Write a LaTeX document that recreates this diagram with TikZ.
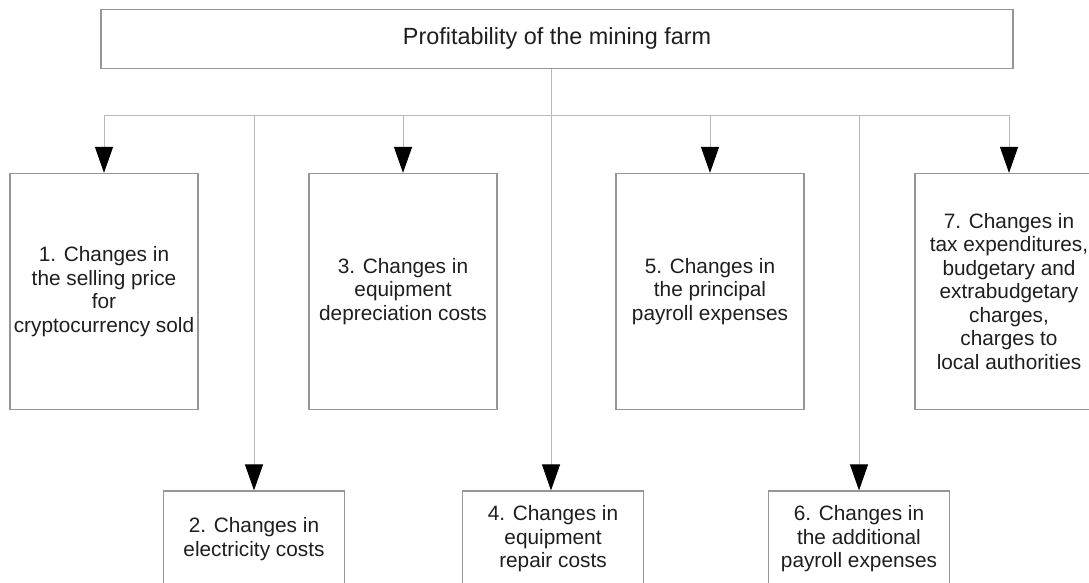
\documentclass[tikz,border=0pt]{standalone}
\usepackage{fontspec}
\setmainfont{Liberation Sans}
\usetikzlibrary{arrows.meta}
\definecolor{linegray}{RGB}{185,185,185}
\definecolor{framegray}{RGB}{150,150,150}
\definecolor{ink}{RGB}{30,30,30}

\begin{document}
\begin{tikzpicture}[x=1pt,y=-1pt,
	factor/.style={draw=framegray,line width=1.2pt,text=ink,align=center,inner sep=2pt,font=\fontsize{20.8}{23.5}\selectfont},
	rowone/.style={factor,minimum width=188pt,minimum height=236pt},
	rowtwo/.style={factor,minimum width=181pt,minimum height=96pt},
	wire/.style={draw=linegray,line width=1pt},
	feed/.style={wire,-{Triangle[length=26pt,width=18pt,color=black]}}]
	\useasboundingbox (0,0) rectangle (1089,582);

	\node[factor,minimum width=912pt,minimum height=59pt,font=\fontsize{23.4}{26}\selectfont](farm) at (557,38.7) {Profitability of the mining farm};

	\node[rowone](c1) at (104,291.5) {1. Changes in\\the selling price\\for\\cryptocurrency sold};
	\node[rowone](c3) at (403,291.5) {3. Changes in\\equipment\\depreciation costs};
	\node[rowone](c5) at (710,291.5) {5. Changes in\\the principal\\payroll expenses};
	\node[rowone](c7) at (1009,291.5) {7. Changes in\\tax expenditures,\\budgetary and\\extrabudgetary\\charges,\\charges to\\local authorities};

	\node[rowtwo](c2) at (254,539) {2. Changes in\\electricity costs};
	\node[rowtwo](c4) at (553,539) {4. Changes in\\equipment\\repair costs};
	\node[rowtwo](c6) at (859,539) {6. Changes in\\the additional\\payroll expenses};

	\coordinate (bus) at (551,115);
	\draw[wire] (bus |- farm.south) -- (bus);
	\draw[feed] (bus) -| (c1.north);
	\draw[feed] (bus) -| (c2.north);
	\draw[feed] (bus) -| (c3.north);
	\draw[feed] (bus) -| (c4.north -| bus);
	\draw[feed] (bus) -| (c5.north);
	\draw[feed] (bus) -| (c6.north);
	\draw[feed] (bus) -| (c7.north);
\end{tikzpicture}
\end{document}
